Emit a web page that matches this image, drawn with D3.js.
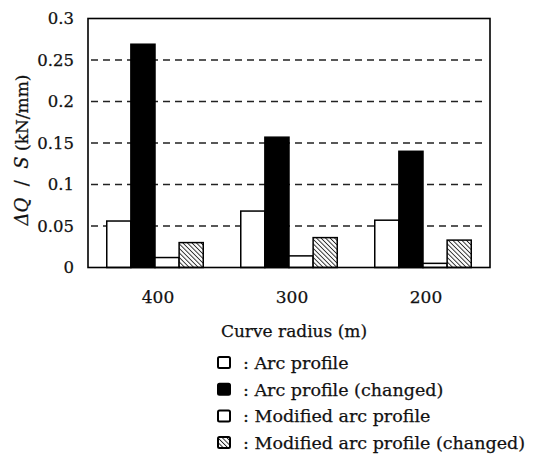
<!DOCTYPE html>
<html>
<head>
<meta charset="UTF-8">
<title>Delta Q / S by curve radius</title>
<script src="https://cdnjs.cloudflare.com/ajax/libs/d3/7.8.5/d3.min.js"></script>
<style>
body { margin: 0; background: #fff; }
text { font-family: "DejaVu Serif", "Liberation Serif", serif; fill: #111; stroke: #111; stroke-width: 0.25px; }
</style>
</head>
<body>
<div id="chart"></div>
<script>
/*global d3*/

// curve radius categories
var radii = ["400", "300", "200"];
// series values (kN/mm)
var arcProfile = [0.056, 0.068, 0.057];
var arcProfileChanged = [0.269, 0.157, 0.140];
var modArcProfile = [0.012, 0.014, 0.005];
var modArcProfileChanged = [0.030, 0.036, 0.033];
var seriesNames = ["Arc profile", "Arc profile (changed)", "Modified arc profile", "Modified arc profile (changed)"];
var yTicks = [0, 0.05, 0.1, 0.15, 0.2, 0.25, 0.3];
var yTickLabels = ["0", "0.05", "0.1", "0.15", "0.2", "0.25", "0.3"];

var seriesValues = [arcProfile, arcProfileChanged, modArcProfile, modArcProfileChanged];
var fills = ["#fff", "#000", "#fff", "url(#hatch)"];

var width = 533, height = 454;
var plotLeft = 88, plotRight = 490, plotTop = 18.5, plotBottom = 267.5;

var svg = d3.select("#chart").append("svg")
    .attr("width", width)
    .attr("height", height);

// hatch pattern for the last series
var pat = svg.append("defs").append("pattern")
    .attr("id", "hatch")
    .attr("patternUnits", "userSpaceOnUse")
    .attr("width", 3.2)
    .attr("height", 3.2)
    .attr("patternTransform", "rotate(-45)");
pat.append("rect").attr("width", 3.2).attr("height", 3.2).attr("fill", "#fff");
pat.append("line")
    .attr("x1", 0).attr("y1", 0).attr("x2", 0).attr("y2", 3.2)
    .attr("stroke", "#222").attr("stroke-width", 1.8);

var x = d3.scaleBand()
    .domain(radii)
    .range([plotLeft, plotRight])
    .paddingInner(0.28)
    .paddingOuter(0.14);

var xInner = d3.scaleBand()
    .domain(d3.range(seriesNames.length))
    .range([0, x.bandwidth()]);

var y = d3.scaleLinear()
    .domain([0, 0.3])
    .range([plotBottom, plotTop]);

// dashed grid lines
svg.append("g")
    .selectAll("line")
    .data(yTicks.filter(function (d) { return d > 0 && d < 0.3; }))
    .enter().append("line")
    .attr("x1", plotLeft + 3)
    .attr("x2", plotRight - 8)
    .attr("y1", function (d) { return y(d); })
    .attr("y2", function (d) { return y(d); })
    .attr("stroke", "#222")
    .attr("stroke-width", 1.3)
    .attr("stroke-dasharray", "7,5");

// bars
var groups = svg.append("g")
    .selectAll("g")
    .data(radii)
    .enter().append("g")
    .attr("transform", function (d) { return "translate(" + x(d) + ",0)"; });

groups.selectAll("rect")
    .data(function (d, i) {
        return seriesValues.map(function (s, k) { return { k: k, v: s[i] }; });
    })
    .enter().append("rect")
    .attr("x", function (d) { return xInner(d.k); })
    .attr("width", xInner.bandwidth())
    .attr("y", function (d) { return y(d.v); })
    .attr("height", function (d) { return y(0) - y(d.v); })
    .attr("fill", function (d) { return fills[d.k]; })
    .attr("stroke", "#000")
    .attr("stroke-width", 1.5);

// frame
svg.append("rect")
    .attr("x", plotLeft)
    .attr("y", plotTop)
    .attr("width", plotRight - plotLeft)
    .attr("height", plotBottom - plotTop)
    .attr("fill", "none")
    .attr("stroke", "#000")
    .attr("stroke-width", 1.6);

// y axis labels
var yAxis = d3.axisLeft(y)
    .tickValues(yTicks)
    .tickFormat(function (d, i) { return yTickLabels[i]; })
    .tickSize(0)
    .tickPadding(14);
var gy = svg.append("g")
    .attr("transform", "translate(" + plotLeft + ",0)")
    .call(yAxis);
gy.select(".domain").remove();
gy.selectAll("text")
    .attr("font-size", 16.5)
    .attr("font-family", "DejaVu Serif")
    .attr("fill", "#111");

// x axis labels
var xAxis = d3.axisBottom(x).tickSize(0).tickPadding(23);
var gx = svg.append("g")
    .attr("transform", "translate(3," + plotBottom + ")")
    .call(xAxis);
gx.select(".domain").remove();
gx.selectAll("text")
    .attr("font-size", 17)
    .attr("font-family", "DejaVu Serif")
    .attr("fill", "#111");

svg.append("text")
    .attr("x", 294)
    .attr("y", 337)
    .attr("text-anchor", "middle")
    .attr("font-size", 17)
    .text("Curve radius (m)");

// y axis title
var yt = svg.append("text")
    .attr("transform", "translate(28,150) rotate(-90)")
    .attr("text-anchor", "middle")
    .attr("font-size", 18)
    .style("white-space", "pre");
yt.append("tspan").attr("font-style", "italic").text("\u0394Q");
yt.append("tspan").text("  /  ");
yt.append("tspan").attr("font-style", "italic").text("S");
yt.append("tspan").attr("font-size", 17).text(" (kN/mm)");

// legend
var legend = svg.append("g")
    .selectAll("g")
    .data(seriesNames)
    .enter().append("g")
    .attr("transform", function (d, i) { return "translate(218," + (363 + i * 26.7) + ")"; });

legend.append("rect")
    .attr("x", 0)
    .attr("y", -6)
    .attr("width", 12)
    .attr("height", 11)
    .attr("rx", 1.5)
    .attr("fill", function (d, i) { return fills[i]; })
    .attr("stroke", "#000")
    .attr("stroke-width", 2);

legend.append("text")
    .attr("x", 25)
    .attr("y", 6)
    .attr("font-size", 17.5)
    .text(function (d) { return ": " + d; });
</script>
</body>
</html>
